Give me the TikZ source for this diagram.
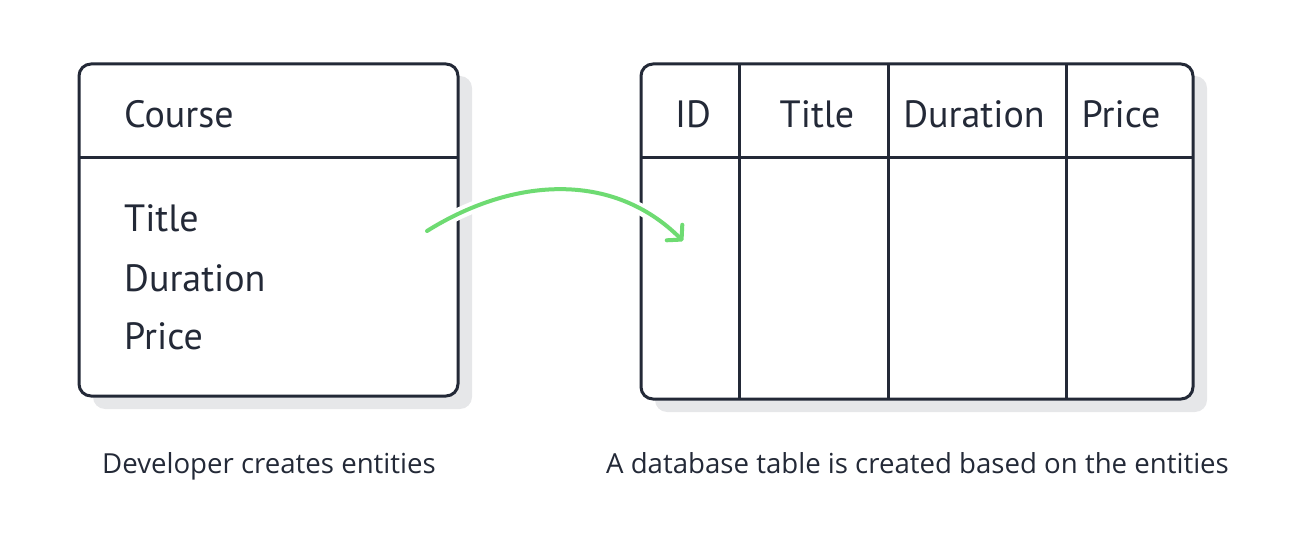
\documentclass[tikz,border=0pt]{standalone}
\usepackage{fontspec}
\setmainfont{Open Sans}
\newfontfamily\handfont{PT Sans}
\usetikzlibrary{arrows.meta, calc}
\definecolor{ink}{HTML}{232937}
\definecolor{shade}{HTML}{E6E7E9}
\definecolor{flow}{HTML}{6EDB72}
\newcommand{\rad}{12}
\newcommand{\hrow}{389} % y of header line
\tikzset{
	frame/.style={draw=ink, line width=3, rounded corners=\rad},
	shadow/.style={fill=shade, rounded corners=\rad},
	field/.style={font=\handfont\fontsize{38}{44}\selectfont, text=ink, inner sep=0},
	caption/.style={font=\fontsize{27.6}{32}\selectfont, text=ink, inner sep=0, anchor=base west},
	flowarrow/.style={draw=flow, line width=4, line cap=round, -{Straight Barb[length=10,width=22,line width=4,round]},
		preaction={draw=white, line width=12, -}}
}

\begin{document}
\begin{tikzpicture}[x=1pt, y=1pt]
	\useasboundingbox (0,0) rectangle (1307,547);
		% shadows
		\fill[shadow] (93,471) rectangle (472,138);
		\fill[shadow] (655,471) rectangle (1207,135);
		% entity box
		\draw[frame, fill=white] (79,483) rectangle (458,151);
		\draw[ink, line width=3] (79,\hrow) -- (458,\hrow);
		\node[field, anchor=base west] (course) at (124,419) {Course};
		\node[field, anchor=base west] (title)    at (124,315) {Title};
		\node[field, anchor=base west] (duration) at (124,255) {Duration};
		\node[field, anchor=base west] (price)    at (124,197) {Price};
		% database table
		\draw[frame, fill=white] (641,483) rectangle (1193,148);
		\draw[ink, line width=3] (641,\hrow) -- (1193,\hrow);
		\foreach \x in {739, 888, 1066} {
			\draw[ink, line width=3] (\x,483) -- (\x,148); % column separators
		};
		\foreach \x/\name/\txt in {693/colid/ID, 817/coltitle/Title, 974/colduration/Duration, 1121/colprice/Price} {
			\node[field, anchor=base] (\name) at (\x,419) {\txt};
		};
		% mapping arrow
		\coordinate (from) at (427,316);
		\coordinate (to)   at (683,306);
		\draw[flowarrow] (from) to[out=32, in=135] (to);
		% captions
		\node[caption] (leftcap)  at (102,74) {Developer creates entities};
		\node[caption] (rightcap) at (606,74) {A database table is created based on the entities};
	\end{tikzpicture}
\end{document}
